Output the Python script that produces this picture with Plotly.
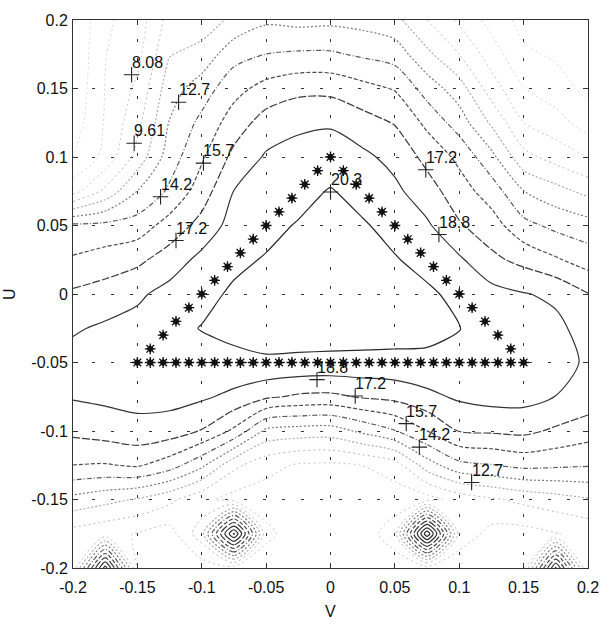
import plotly.graph_objects as go

# ---- grid of the field (V across, U down from +0.2 to -0.2) ----
v_grid = [-0.2, -0.175, -0.15, -0.125, -0.1, -0.075, -0.05, -0.025, 0.0,
          0.025, 0.05, 0.075, 0.1, 0.125, 0.15, 0.175, 0.2]
u_grid_desc = [0.2, 0.175, 0.15, 0.125, 0.1, 0.075, 0.05, 0.025, 0.0,
               -0.025, -0.05, -0.075, -0.1, -0.125, -0.15, -0.175, -0.2]

z_rows_desc = [
    [3.5, 6.3, 7.2, 10.2, 10.3, 11.5, 12.4, 12.2, 12.3, 12.1, 11.6, 9.6, 7.8, 6.0, 4.5, 4.2, 3.8],
    [3.6, 6.5, 7.6, 11.05, 11.7, 13.6, 14.2, 14.4, 14.4, 13.95, 13.5, 11.5, 9.6, 7.3, 5.3, 4.8, 4.0],
    [3.8, 6.6, 8.4, 12.0, 13.4, 15.2, 16.25, 16.8, 16.8, 16.2, 15.6, 13.5, 11.85, 8.85, 6.6, 5.7, 4.6],
    [4.2, 6.7, 9.15, 12.75, 14.6, 16.45, 17.9, 18.5, 18.6, 17.85, 17.15, 15.35, 13.45, 10.9, 8.1, 7.2, 5.8],
    [5.0, 7.0, 10.2, 13.45, 15.5, 17.65, 18.95, 19.25, 19.5, 19.1, 18.3, 16.8, 15.35, 13.1, 10.1, 9.0, 8.0],
    [7.5, 10.0, 12.7, 14.45, 16.5, 18.8, 19.4, 19.8, 20.4, 19.75, 19.1, 17.9, 16.4, 15.0, 12.7, 11.7, 10.7],
    [14.5, 14.6, 14.9, 16.35, 17.75, 19.4, 19.9, 20.4, 20.8, 20.45, 19.8, 19.0, 17.4, 16.4, 14.65, 13.8, 13.3],
    [15.9, 16.4, 16.9, 17.95, 19.2, 20.0, 20.4, 20.95, 21.1, 21.0, 20.4, 19.8, 19.0, 17.6, 16.8, 15.9, 15.0],
    [17.5, 17.9, 18.5, 19.3, 19.9, 20.5, 20.9, 21.2, 21.3, 21.2, 21.0, 20.55, 19.9, 19.3, 18.85, 18.5, 17.3],
    [18.6, 19.0, 19.3, 19.9, 20.35, 20.7, 20.9, 21.0, 21.0, 21.0, 20.9, 20.8, 20.35, 19.6, 19.2, 19.1, 18.2],
    [19.3, 19.4, 19.5, 19.8, 19.8, 19.9, 20.1, 20.0, 19.95, 19.9, 19.9, 19.9, 19.7, 19.7, 19.3, 19.2, 18.6],
    [18.9, 19.1, 19.3, 19.3, 19.0, 18.4, 17.5, 17.0, 16.9, 17.4, 17.7, 18.4, 19.0, 19.3, 19.3, 18.75, 18.2],
    [17.6, 17.9, 18.2, 18.0, 17.15, 15.4, 12.3, 12.0, 11.9, 13.0, 14.1, 15.7, 17.3, 17.45, 17.6, 17.0, 16.4],
    [15.7, 15.6, 15.9, 14.9, 13.0, 10.0, 8.6, 7.9, 7.8, 8.1, 8.9, 11.9, 13.75, 14.1, 14.6, 14.45, 14.3],
    [12.2, 11.6, 11.0, 10.0, 8.5, 7.5, 7.3, 7.2, 7.2, 7.2, 7.2, 7.5, 8.7, 9.4, 10.0, 10.5, 11.0],
    [9.0, 8.5, 8.0, 7.4, 10.5, 22.0, 8.5, 7.2, 7.1, 7.2, 9.0, 23.0, 9.0, 7.6, 7.5, 8.0, 8.5],
    [8.5, 21.0, 8.0, 7.4, 7.2, 7.3, 7.1, 7.1, 7.1, 7.1, 7.1, 7.3, 7.1, 7.3, 7.8, 20.5, 8.0],
]

# ---- contour levels and the pen used for each ----
levels = [3.499, 5.026, 6.553, 8.080, 9.607, 11.134, 12.661, 14.188,
          15.715, 17.242, 18.769, 20.296, 21.823, 23.350]
level_colors = ["#e2e2e2", "#dcdcdc", "#d4d4d4", "#c8c8c8", "#bababa", "#a6a6a6", "#7c7c7c",
                "#5a5a5a", "#4a4a4a", "#3a3a3a", "#333333", "#2a2a2a", "#2a2a2a", "#2a2a2a"]
level_dashes = ["2px,3px", "2px,3px", "2px,3px", "2px,3px", "2px,3px", "2px,2px", "2px,2px",
                "5px,2px,1px,2px", "4px,2px", "8px,2px", "solid", "solid", "solid", "solid"]
level_widths = [1.0, 1.0, 1.0, 1.0, 1.0, 1.1, 1.2, 1.2, 1.2, 1.2, 1.2, 1.2, 1.2, 1.2]

# ---- measurement points (stars) along the triangular path ----
star_v = [-0.15, -0.14, -0.13, -0.12, -0.11, -0.10, -0.09, -0.08, -0.07, -0.06, -0.05,
          -0.04, -0.03, -0.02, -0.01, 0.00, 0.01, 0.02, 0.03, 0.04, 0.05, 0.06, 0.07,
          0.08, 0.09, 0.10, 0.11, 0.12, 0.13, 0.14, 0.15,
          -0.14, -0.13, -0.12, -0.11, -0.10, -0.09, -0.08, -0.07, -0.06, -0.05, -0.04,
          -0.03, -0.02, -0.01, 0.00,
          0.01, 0.02, 0.03, 0.04, 0.05, 0.06, 0.07, 0.08, 0.09, 0.10, 0.11, 0.12, 0.13, 0.14]
star_u = [-0.05] * 31 + [
    -0.04, -0.03, -0.02, -0.01, 0.00, 0.01, 0.02, 0.03, 0.04, 0.05, 0.06,
    0.07, 0.08, 0.09, 0.10,
    0.09, 0.08, 0.07, 0.06, 0.05, 0.04, 0.03, 0.02, 0.01, 0.00, -0.01, -0.02, -0.03, -0.04]

# ---- contour labels (position on the line, level value) ----
label_v = [-0.1545, -0.1525, -0.118, -0.0987, -0.132, -0.120, 0.0, 0.074, 0.0842,
           -0.0105, 0.0192, 0.0588, 0.069, 0.1096]
label_u = [0.160, 0.110, 0.140, 0.0955, 0.071, 0.039, 0.0744, 0.0907, 0.0434,
           -0.0625, -0.0744, -0.0946, -0.1118, -0.1376]
label_level = [8.080, 9.607, 12.661, 15.715, 14.188, 17.242, 20.296, 17.242, 18.769,
               18.769, 17.242, 15.715, 14.188, 12.661]

tick_vals = [-0.2, -0.15, -0.1, -0.05, 0.0, 0.05, 0.1, 0.15, 0.2]
tick_text = ["-0.2", "-0.15", "-0.1", "-0.05", "0", "0.05", "0.1", "0.15", "0.2"]

u_grid = u_grid_desc[::-1]
z_grid = z_rows_desc[::-1]

fig = go.Figure()

for lev, col, dash, wid in zip(levels, level_colors, level_dashes, level_widths):
    fig.add_trace(go.Contour(
        x=v_grid, y=u_grid, z=z_grid,
        contours=dict(start=lev, end=lev, size=1.0, coloring="none"),
        line=dict(color=col, width=wid, dash=dash, smoothing=0.8),
        showscale=False, hoverinfo="skip",
    ))

# star markers: a small dark diamond core with thin asterisk arms
fig.add_trace(go.Scatter(
    x=star_v, y=star_u, mode="markers",
    marker=dict(symbol="asterisk-open", size=9, color="#111",
                line=dict(color="#111", width=1.3)),
    hoverinfo="skip",
))
fig.add_trace(go.Scatter(
    x=star_v, y=star_u, mode="markers",
    marker=dict(symbol="diamond", size=6, color="#111", line=dict(width=0)),
    hoverinfo="skip",
))

fig.add_trace(go.Scatter(
    x=label_v, y=label_u, mode="markers",
    marker=dict(symbol="cross-thin-open", size=11, color="#222",
                line=dict(color="#222", width=1.1)),
    hoverinfo="skip",
))

font_family = "Liberation Sans, Arial, Helvetica, sans-serif"

annotations = []
for lv, lu, lev in zip(label_v, label_u, label_level):
    annotations.append(dict(
        x=lv, y=lu, xref="x", yref="y", text=f"{lev:.3g}", showarrow=False,
        xanchor="left", yanchor="bottom", xshift=-2, yshift=2,
        font=dict(family=font_family, size=16, color="#111"),
    ))
annotations.append(dict(
    x=0.5, y=0, xref="paper", yref="paper", text="V", showarrow=False,
    xanchor="center", yanchor="middle", yshift=-43,
    font=dict(family=font_family, size=16, color="#111"),
))
annotations.append(dict(
    x=0, y=0.5, xref="paper", yref="paper", text="U", showarrow=False,
    xanchor="center", yanchor="middle", xshift=-64, textangle=-90,
    font=dict(family=font_family, size=16, color="#111"),
))

axis_common = dict(
    range=[-0.2, 0.2], tickvals=tick_vals, ticktext=tick_text,
    ticks="inside", ticklen=5, tickcolor="#333", tickwidth=1,
    showline=True, linecolor="#333", linewidth=1, mirror="ticks",
    showgrid=True, gridcolor="#333", gridwidth=1, griddash="3px,16px",
    zeroline=False, tickfont=dict(family=font_family, size=16, color="#111"),
    fixedrange=True,
)

fig.update_layout(
    width=611, height=624,
    margin=dict(l=73, r=13, t=18, b=56),
    paper_bgcolor="white", plot_bgcolor="white",
    showlegend=False,
    xaxis=dict(**axis_common, ticklabelstandoff=5),
    yaxis=dict(**axis_common, ticklabelstandoff=1),
    annotations=annotations,
)

fig.write_html("out.html")
